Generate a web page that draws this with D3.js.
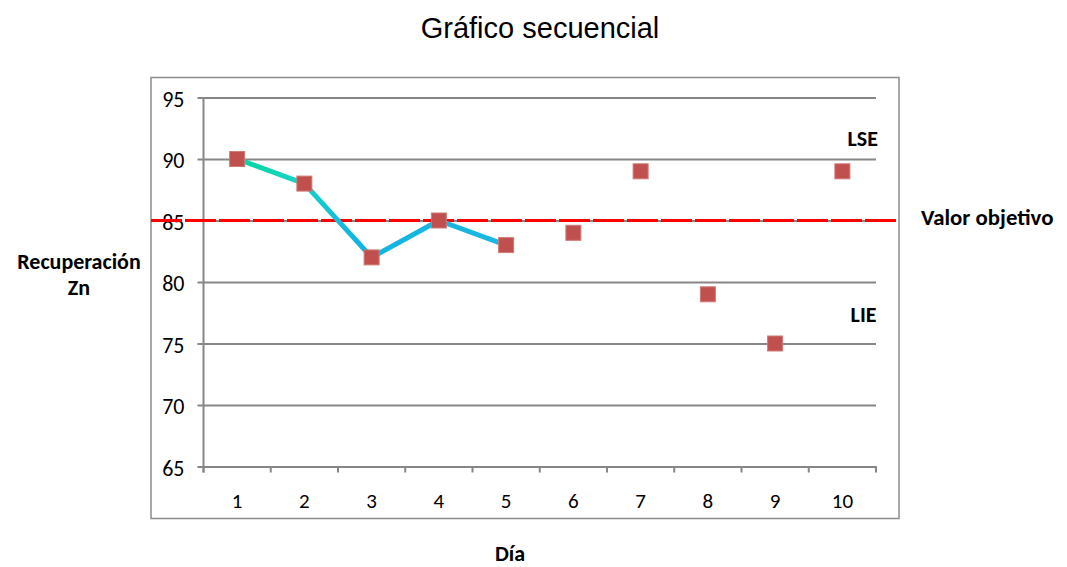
<!DOCTYPE html>
<html><head><meta charset="utf-8">
<script src="https://cdn.jsdelivr.net/npm/d3@7"></script>
<style>body{margin:0;background:#fff}svg{display:block}</style>
</head><body>
<svg id="c" width="1067" height="567"></svg>
<script>
const days = ["1","2","3","4","5","6","7","8","9","10"];
const values = [90, 88, 82, 85, 83, 84, 89, 79, 75, 89];
const lineCount = 5;           // first five days joined by the line
const target = 85;             // Valor objetivo
const yTicks = [65, 70, 75, 80, 85, 90, 95];
const title = "Gráfico secuencial";
const yLabel = ["Recuperación", "Zn"];
const xLabel = "Día";

const svg = d3.select("#c");
const L = 203.5, R = 876, T = 97.5, B = 466.5;
const x = d3.scaleBand().domain(days).range([L, R]);
const y = d3.scaleLinear().domain([65, 95]).range([B, T]);
const cx = d => x(d) + x.bandwidth() / 2;
const cal = "Carlito, Calibri, Lato, sans-serif";

// outer box
svg.append("rect").attr("x", 151).attr("y", 77.5).attr("width", 748).attr("height", 441)
  .attr("fill", "none").attr("stroke", "#8c8c8c").attr("stroke-width", 1.5);

// title
svg.append("text").attr("x", 540).attr("y", 38).attr("text-anchor", "middle")
  .attr("font-family", "Liberation Sans, Arial, sans-serif").attr("font-size", 29).attr("fill", "#000").text(title);

// gridlines + y axis
const yAxis = d3.axisLeft(y).tickValues(yTicks).tickSize(-(R - L)).tickPadding(19);
const gy = svg.append("g").attr("transform", `translate(${L},0)`).call(yAxis);
gy.select(".domain").remove();
gy.selectAll(".tick line").attr("stroke", "#868686").attr("stroke-width", 2).attr("x1", -6);
gy.selectAll(".tick text").attr("font-family", cal).attr("font-size", 22).attr("fill", "#000").attr("dy", "0.4em");
svg.append("line").attr("x1", L).attr("x2", L).attr("y1", T).attr("y2", B + 6)
  .attr("stroke", "#868686").attr("stroke-width", 2);

// x axis
const xAxis = d3.axisBottom(x).tickSize(0).tickPadding(27);
const gx = svg.append("g").attr("transform", `translate(0,${B})`).call(xAxis);
gx.select(".domain").attr("stroke", "#868686").attr("stroke-width", 2);
gx.selectAll(".tick text").attr("font-family", cal).attr("font-size", 21).attr("fill", "#000");
const bounds = days.map(d => x(d)).concat([R]);
svg.append("g").selectAll("line").data(bounds).join("line")
  .attr("x1", d => d).attr("x2", d => d).attr("y1", B).attr("y2", B + 6)
  .attr("stroke", "#868686").attr("stroke-width", 2);

// target line
svg.append("line").attr("x1", 151).attr("x2", 899).attr("y1", y(target)).attr("y2", y(target))
  .attr("stroke", "#ff0000").attr("stroke-width", 3).attr("stroke-dasharray", "31,3");

// gradient for the line
const defs = svg.append("defs");
const grad = defs.append("linearGradient").attr("id", "lg").attr("gradientUnits", "userSpaceOnUse")
  .attr("x1", cx(days[0])).attr("x2", cx(days[lineCount - 1])).attr("y1", 0).attr("y2", 0);
grad.append("stop").attr("offset", "0%").attr("stop-color", "#05d6a0");
grad.append("stop").attr("offset", "22%").attr("stop-color", "#18d4c4");
grad.append("stop").attr("offset", "45%").attr("stop-color", "#12b4e2");
grad.append("stop").attr("offset", "100%").attr("stop-color", "#1ab8e2");

const pts = days.slice(0, lineCount).map((d, i) => [cx(d), y(values[i])]);
svg.append("path").attr("d", d3.line()(pts)).attr("fill", "none")
  .attr("stroke", "url(#lg)").attr("stroke-width", 5).attr("stroke-linejoin", "round");

// markers
const s = 15;
svg.append("g").selectAll("rect").data(days).join("rect")
  .attr("x", d => cx(d) - s / 2).attr("y", (d, i) => y(values[i]) - s / 2)
  .attr("width", s).attr("height", s)
  .attr("fill", "#c0504d").attr("stroke", "#d07a78").attr("stroke-width", 1);

// annotations
function lab(tx, px, py, anchor, fs) {
  svg.append("text").attr("x", px).attr("y", py).attr("text-anchor", anchor)
    .attr("font-family", cal).attr("font-weight", "bold").attr("font-size", fs || 22).attr("fill", "#000").text(tx);
}
lab("LSE", 878, 146, "end");
lab("LIE", 876.5, 322, "end");
lab("Valor objetivo", 921, 225, "start", 22.8);
lab(yLabel[0], 79, 269, "middle");
lab(yLabel[1], 79, 295, "middle");
lab(xLabel, 510, 561, "middle");
</script>
</body></html>
